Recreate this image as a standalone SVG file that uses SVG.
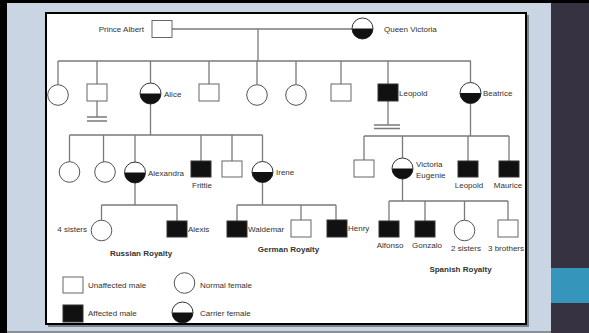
<svg xmlns="http://www.w3.org/2000/svg" xmlns:xlink="http://www.w3.org/1999/xlink" width="589" height="333" viewBox="0 0 589 333">
<style>
.t{font-family:"Liberation Sans",Arial,sans-serif;font-size:8px;fill:#333}
.b{font-family:"Liberation Sans",Arial,sans-serif;font-size:8px;font-weight:bold;fill:#333}
.m{fill:#fff;stroke:#666;stroke-width:1}
.a{fill:#111;stroke:#333;stroke-width:1}
.f{fill:#fff;stroke:#555;stroke-width:1}
#conn path{fill:none;stroke:#7a7a7a;stroke-width:1.3}
</style>
<defs>
<g id="carrier"><circle r="10.5" fill="#fff" stroke="#333" stroke-width="1"/><path d="M-10.5,0A10.5,10.5 0 0 0 10.5,0Z" fill="#111"/></g>
<circle id="fem" r="10.3" class="f"/>
</defs>
<rect width="589" height="333" fill="#000"/>
<rect x="7" y="3" width="544" height="328" fill="#c9d5e3"/>
<rect x="551" y="3" width="38" height="330" fill="#363242"/>
<rect x="551" y="268" width="38" height="35" fill="#3595bb"/>
<rect x="7" y="331" width="544" height="2" fill="#8a8f96"/>
<rect x="48" y="15" width="481" height="312" fill="#7d8188"/>
<rect x="46" y="13" width="480" height="311" fill="#fff" stroke="#000" stroke-width="2"/>

<g id="conn">
<path d="M172,29H352M258,29V61M58,61H471"/>
<path d="M58,61V84.5M97,61V84M150.5,61V83M209,61V84M257,61V84.5M296,61V84.5M341,61V84M388,61V84M470.5,61V82.5"/>
<path d="M97,101V117M87,117H107M87,121H107"/>
<path d="M388,101V125M374,125H400M374,128.5H400"/>
<path d="M150.5,104V135M69.5,135H262.5M69.5,135V161.7M103.5,135V161.8M135,135V162M201,135V161M232,135V161M262.5,135V161.5"/>
<path d="M135,183V205M101.5,205H177M101.5,205V220M177,205V221"/>
<path d="M262.5,183V205M237,205H336M237,205V221M301,205V220M336,205V220"/>
<path d="M470.5,103.5V136M364,136H509M364,136V160M402.5,136V158M468,136V161M509,136V161"/>
<path d="M402.5,179V201M389,201H508M389,201V221M425,201V221M464.5,201V220M508,201V220"/>
</g>

<g id="prince-albert"><rect class="m" x="152" y="20.5" width="20" height="17"/><text class="t" x="144" y="32" text-anchor="end">Prince Albert</text></g>
<g id="queen-victoria"><use xlink:href="#carrier" x="362.5" y="28.5"/><text class="t" x="384" y="32">Queen Victoria</text></g>

<g id="g2-daughter1"><use xlink:href="#fem" x="58" y="95"/></g>
<g id="g2-son1"><rect class="m" x="87" y="84" width="20" height="17"/></g>
<g id="alice"><use xlink:href="#carrier" x="150.5" y="93.5"/><text class="t" x="164" y="96.5">Alice</text></g>
<g id="g2-son2"><rect class="m" x="199" y="84" width="20" height="17"/></g>
<g id="g2-daughter2"><use xlink:href="#fem" x="257" y="95"/></g>
<g id="g2-daughter3"><use xlink:href="#fem" x="296" y="95"/></g>
<g id="g2-son3"><rect class="m" x="331" y="84" width="20" height="17"/></g>
<g id="leopold"><rect class="a" x="378" y="84" width="20" height="17"/><text class="t" x="399" y="96">Leopold</text></g>
<g id="beatrice"><use xlink:href="#carrier" x="470.5" y="93"/><text class="t" x="483" y="96">Beatrice</text></g>

<g id="g3-daughter1"><use xlink:href="#fem" x="69.5" y="172"/></g>
<g id="g3-daughter2"><use xlink:href="#fem" x="105" y="172"/></g>
<g id="alexandra"><use xlink:href="#carrier" x="135" y="172.5"/><text class="t" x="148" y="175.5">Alexandra</text></g>
<g id="frittie"><rect class="a" x="191" y="161" width="20" height="16"/><text class="t" x="202" y="188" text-anchor="middle">Frittie</text></g>
<g id="g3-son"><rect class="m" x="222" y="161" width="20" height="16"/></g>
<g id="irene"><use xlink:href="#carrier" x="262.5" y="172"/><text class="t" x="276" y="175">Irene</text></g>

<g id="four-sisters"><use xlink:href="#fem" x="101.5" y="230.5"/><text class="t" x="87" y="232" text-anchor="end">4 sisters</text></g>
<g id="alexis"><rect class="a" x="167" y="221" width="20" height="16"/><text class="t" x="188" y="232">Alexis</text></g>
<text class="b" x="141" y="256" text-anchor="middle">Russian Royalty</text>

<g id="waldemar"><rect class="a" x="227" y="221" width="20" height="16"/><text class="t" x="248" y="232">Waldemar</text></g>
<g id="g4-son"><rect class="m" x="291" y="220" width="20" height="17"/></g>
<g id="henry"><rect class="a" x="327" y="220" width="20" height="17"/><text class="t" x="348" y="231">Henry</text></g>
<text class="b" x="288.5" y="252" text-anchor="middle">German Royalty</text>

<g id="b-son"><rect class="m" x="354" y="160" width="20" height="17"/></g>
<g id="victoria-eugenie"><use xlink:href="#carrier" x="402.5" y="168.5"/><text class="t" x="416" y="167">Victoria</text><text class="t" x="416" y="178">Eugenie</text></g>
<g id="leopold2"><rect class="a" x="458" y="161" width="20" height="16"/><text class="t" x="469" y="188" text-anchor="middle">Leopold</text></g>
<g id="maurice"><rect class="a" x="499" y="161" width="20" height="16"/><text class="t" x="508" y="188" text-anchor="middle">Maurice</text></g>

<g id="alfonso"><rect class="a" x="379" y="221" width="20" height="16"/><text class="t" x="390" y="248" text-anchor="middle">Alfonso</text></g>
<g id="gonzalo"><rect class="a" x="415" y="221" width="20" height="16"/><text class="t" x="427" y="248" text-anchor="middle">Gonzalo</text></g>
<g id="two-sisters"><use xlink:href="#fem" x="464.5" y="230.5"/><text class="t" x="466" y="251" text-anchor="middle">2 sisters</text></g>
<g id="three-brothers"><rect class="m" x="498" y="220" width="20" height="17"/><text class="t" x="506" y="251" text-anchor="middle">3 brothers</text></g>
<text class="b" x="460.5" y="272" text-anchor="middle">Spanish Royalty</text>

<g id="legend">
<rect class="m" x="63" y="277" width="20" height="16"/><text class="t" x="88" y="288">Unaffected male</text>
<use xlink:href="#fem" x="184.5" y="283"/><text class="t" x="200" y="288">Normal female</text>
<rect class="a" x="63" y="305" width="20" height="17"/><text class="t" x="88" y="316">Affected male</text>
<use xlink:href="#carrier" x="182.5" y="312.5"/><text class="t" x="200" y="316">Carrier female</text>
</g>
</svg>
